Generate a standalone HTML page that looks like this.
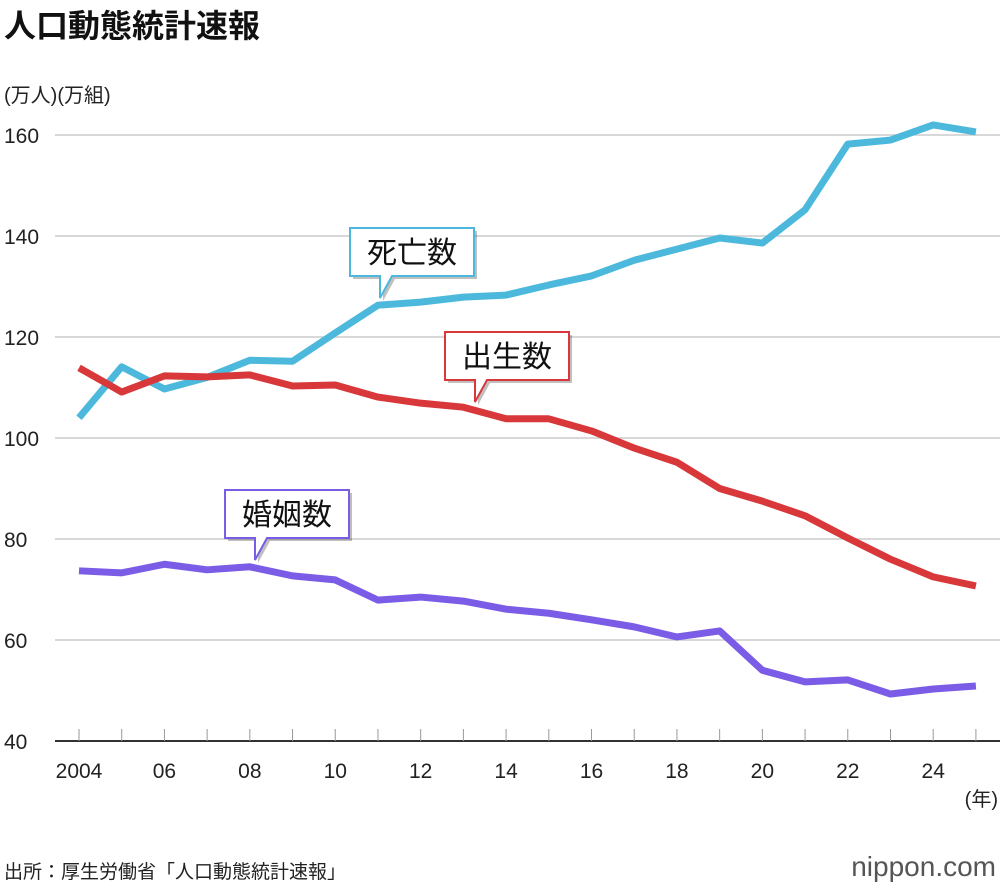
<!DOCTYPE html>
<html><head><meta charset="utf-8"><style>
body{margin:0;background:#fff;width:1000px;height:890px;overflow:hidden;font-family:"Liberation Sans","Noto Sans CJK JP",sans-serif}
svg text{font-family:"Liberation Sans","Noto Sans CJK JP",sans-serif}
</style></head><body>
<svg width="1000" height="890">
<text x="4" y="37" font-size="32" font-weight="bold" fill="#111">人口動態統計速報</text>
<text x="4" y="102" font-size="20" fill="#222">(万人)(万組)</text>
<g id="grid"></g><g id="lines"></g><g id="callouts"></g>
<text x="998" y="806" font-size="20" text-anchor="end" fill="#222">(年)</text>
<text x="4" y="878" font-size="19" fill="#222">出所：厚生労働省「人口動態統計速報」</text>
<text x="996" y="876" font-size="28" text-anchor="end" fill="#555">nippon.com</text>
</svg>
<script>
const years=[2004,2005,2006,2007,2008,2009,2010,2011,2012,2013,2014,2015,2016,2017,2018,2019,2020,2021,2022,2023,2024,2025];
const deaths=[104,114.1,109.7,112,115.4,115.2,120.8,126.3,126.9,127.9,128.3,130.3,132.1,135.2,137.4,139.6,138.6,145.2,158.2,159,162,160.6];
const births=[113.9,109.1,112.3,112.1,112.5,110.3,110.5,108.1,106.9,106.1,103.8,103.8,101.4,98,95.2,90,87.5,84.6,80.2,76,72.5,70.7];
const marriages=[73.7,73.3,75,73.9,74.5,72.7,71.9,67.9,68.5,67.7,66.1,65.3,64,62.6,60.6,61.8,54,51.7,52.1,49.3,50.3,50.9];
const yTicks=[40,60,80,100,120,140,160];
const xTickLabels=["2004","06","08","10","12","14","16","18","20","22","24"];
const NS="http://www.w3.org/2000/svg";
const X=y=>79+(y-2004)*42.71;
const Y=v=>741-(v-40)*5.05;
function mk(t,a,p){const e=document.createElementNS(NS,t);for(const k in a)e.setAttribute(k,a[k]);p.appendChild(e);return e;}
const g=document.getElementById('grid');
yTicks.forEach(v=>{
 const l=mk('line',{x1:55,x2:1000,y1:Y(v),y2:Y(v),stroke:v===40?'#333':'#ccc','stroke-width':v===40?2:1.5},g);
 
 
 const t=mk('text',{x:4,y:Y(v)+8,'font-size':21,fill:'#222'},g);t.textContent=v;
 
 
});
years.forEach(y=>{const l=mk('line',{x1:X(y),x2:X(y),y1:Y(40),y2:Y(40)-12,stroke:'#999','stroke-width':1},g);
 
 });
xTickLabels.forEach((s,i)=>{const t=mk('text',{x:X(2004+i*2),y:778,'font-size':21,'text-anchor':'middle',fill:'#222'},g);t.textContent=s;
 
 });
const L=document.getElementById('lines');
[[deaths,'#4cb9dc','deaths-line'],[births,'#d9383a','births-line'],[marriages,'#7a5ce6','marriages-line']].forEach(([d,c,n])=>{
 const p=mk('polyline',{points:d.map((v,i)=>X(years[i])+','+Y(v)).join(' '),fill:'none',stroke:c,'stroke-width':7,'stroke-linejoin':'round'},L);
 
 
});
const C=document.getElementById('callouts');
[[350,228,380,'死亡数','#4cb9dc','deaths-label'],[445,332,475,'出生数','#d9383a','births-label'],[225,490,255,'婚姻数','#7a5ce6','marriages-label']].forEach(([x,y,px,s,c,n])=>{
 const grp=mk('g',{},C);
 
 
 const w=124,h=48;
 const d=`M${x},${y}H${x+w}V${y+h}H${px+12}L${px},${y+h+22}L${px},${y+h}H${x}Z`;
 mk('path',{d:d,fill:'#000',opacity:0.25,transform:'translate(3,3)'},grp);
 mk('path',{d:d,fill:'#fff',stroke:c,'stroke-width':2},grp);
 const t=mk('text',{x:x+w/2,y:y+35,'font-size':30,'text-anchor':'middle',fill:'#111'},grp);t.textContent=s;
});
</script>
</body></html>
